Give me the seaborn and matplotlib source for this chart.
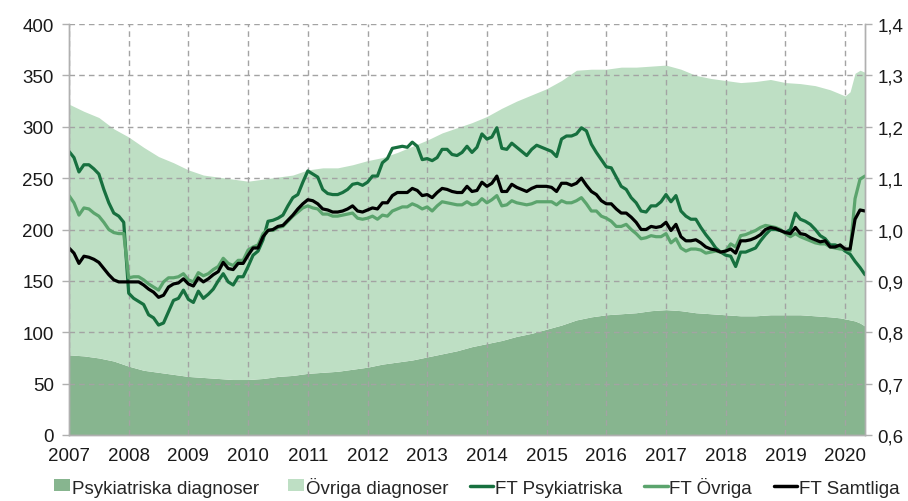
import numpy as np
import pandas as pd
import matplotlib
matplotlib.use("Agg")
import matplotlib.pyplot as plt
import seaborn as sns
from matplotlib.patches import Patch, Rectangle
from matplotlib.lines import Line2D
from matplotlib.legend_handler import HandlerPatch
from matplotlib.ticker import FuncFormatter, MultipleLocator

# ---------------- data ----------------
start_year = 2007
year_ticks = list(range(2007, 2021))

# FT indices, monthly from Jan 2007 to May 2020 (right axis)
ft_psyk = [
    1.152, 1.140, 1.112, 1.126, 1.126, 1.118, 1.108, 1.078, 1.052, 1.032, 1.026, 1.014,
    0.876, 0.866, 0.860, 0.854, 0.834, 0.828, 0.814, 0.818, 0.840, 0.862, 0.866, 0.882,
    0.864, 0.858, 0.880, 0.866, 0.874, 0.884, 0.900, 0.914, 0.898, 0.892, 0.908, 0.908,
    0.928, 0.950, 0.958, 0.980, 1.016, 1.018, 1.022, 1.028, 1.046, 1.062, 1.068, 1.092,
    1.114, 1.108, 1.102, 1.078, 1.070, 1.068, 1.068, 1.072, 1.078, 1.088, 1.090, 1.086,
    1.092, 1.104, 1.104, 1.130, 1.138, 1.158, 1.160, 1.162, 1.160, 1.170, 1.162, 1.136,
    1.138, 1.134, 1.140, 1.156, 1.156, 1.146, 1.144, 1.150, 1.162, 1.150, 1.160, 1.186,
    1.176, 1.180, 1.198, 1.158, 1.156, 1.168, 1.160, 1.152, 1.144, 1.156, 1.164, 1.160,
    1.156, 1.152, 1.142, 1.176, 1.182, 1.182, 1.186, 1.198, 1.192, 1.166, 1.150, 1.136,
    1.122, 1.120, 1.102, 1.084, 1.078, 1.062, 1.052, 1.036, 1.034, 1.046, 1.046, 1.054,
    1.068, 1.054, 1.066, 1.036, 1.026, 1.020, 1.020, 1.004, 0.990, 0.978, 0.964, 0.956,
    0.950, 0.948, 0.928, 0.956, 0.956, 0.960, 0.964, 0.978, 0.990, 1.000, 1.000, 0.998,
    0.994, 1.000, 1.032, 1.020, 1.016, 1.010, 1.000, 0.988, 0.982, 0.970, 0.970, 0.966,
    0.958, 0.952, 0.938, 0.926, 0.912,
]
ft_ovriga = [
    1.066, 1.052, 1.028, 1.042, 1.040, 1.032, 1.026, 1.014, 1.000, 0.994, 0.992, 0.992,
    0.906, 0.908, 0.908, 0.902, 0.894, 0.888, 0.882, 0.898, 0.906, 0.906, 0.908, 0.914,
    0.902, 0.898, 0.916, 0.910, 0.914, 0.922, 0.928, 0.944, 0.934, 0.930, 0.940, 0.940,
    0.960, 0.966, 0.970, 0.992, 1.000, 0.998, 1.004, 1.006, 1.016, 1.026, 1.034, 1.042,
    1.046, 1.042, 1.040, 1.030, 1.030, 1.026, 1.026, 1.028, 1.030, 1.032, 1.022, 1.020,
    1.022, 1.026, 1.020, 1.028, 1.026, 1.036, 1.040, 1.044, 1.044, 1.050, 1.046, 1.040,
    1.044, 1.036, 1.046, 1.054, 1.052, 1.050, 1.048, 1.048, 1.054, 1.048, 1.050, 1.060,
    1.052, 1.058, 1.066, 1.046, 1.048, 1.056, 1.052, 1.050, 1.048, 1.050, 1.054, 1.054,
    1.054, 1.054, 1.048, 1.056, 1.052, 1.052, 1.056, 1.062, 1.050, 1.036, 1.036, 1.026,
    1.022, 1.016, 1.006, 1.006, 1.010, 1.000, 0.992, 0.982, 0.984, 0.988, 0.986, 0.986,
    0.992, 0.974, 0.982, 0.964, 0.958, 0.962, 0.962, 0.960, 0.954, 0.956, 0.958, 0.956,
    0.958, 0.972, 0.966, 0.988, 0.990, 0.994, 0.998, 1.004, 1.008, 1.006, 1.004, 1.000,
    0.992, 0.986, 0.992, 0.986, 0.982, 0.978, 0.974, 0.972, 0.972, 0.966, 0.964, 0.962,
    0.962, 0.958, 1.060, 1.098, 1.104,
]
ft_samtliga = [
    0.964, 0.954, 0.934, 0.948, 0.946, 0.942, 0.936, 0.924, 0.912, 0.902, 0.898, 0.898,
    0.898, 0.898, 0.898, 0.892, 0.884, 0.878, 0.868, 0.872, 0.888, 0.894, 0.896, 0.904,
    0.894, 0.890, 0.906, 0.898, 0.904, 0.912, 0.918, 0.936, 0.924, 0.922, 0.934, 0.934,
    0.950, 0.964, 0.964, 0.986, 0.998, 1.000, 1.006, 1.008, 1.018, 1.028, 1.040, 1.050,
    1.058, 1.056, 1.050, 1.040, 1.038, 1.034, 1.034, 1.036, 1.040, 1.046, 1.036, 1.034,
    1.038, 1.042, 1.040, 1.052, 1.052, 1.066, 1.072, 1.072, 1.072, 1.080, 1.076, 1.066,
    1.068, 1.062, 1.072, 1.080, 1.078, 1.074, 1.072, 1.072, 1.084, 1.074, 1.076, 1.092,
    1.084, 1.090, 1.104, 1.074, 1.074, 1.088, 1.082, 1.078, 1.074, 1.080, 1.084, 1.084,
    1.084, 1.082, 1.074, 1.090, 1.090, 1.086, 1.090, 1.100, 1.086, 1.074, 1.068, 1.056,
    1.050, 1.050, 1.040, 1.032, 1.032, 1.024, 1.014, 1.000, 1.000, 1.006, 1.004, 1.006,
    1.014, 0.998, 1.010, 0.986, 0.978, 0.978, 0.980, 0.974, 0.966, 0.962, 0.960, 0.956,
    0.958, 0.962, 0.954, 0.978, 0.978, 0.980, 0.984, 0.990, 1.000, 1.004, 1.002, 0.998,
    0.994, 0.992, 1.004, 0.992, 0.990, 0.984, 0.980, 0.976, 0.978, 0.966, 0.966, 0.970,
    0.962, 0.962, 1.020, 1.038, 1.036,
]

# Number of sick-leave cases (thousands), left axis; month index from Jan 2007
area_month = [0, 3, 6, 9, 12, 15, 18, 21, 24, 27, 30, 33, 36, 39, 42, 45, 48, 51, 54, 57,
              60, 63, 66, 69, 72, 75, 78, 81, 84, 87, 90, 93, 96, 99, 102, 105, 108, 111,
              114, 117, 120, 123, 126, 129, 132, 135, 138, 141, 144, 147, 150, 153, 155,
              156, 157, 158, 159, 160]
psyk_diag = [78, 77, 75, 72, 67, 63, 61, 59, 57, 56, 55, 54, 54, 55, 57, 58, 60, 61, 62, 64,
             66, 69, 71, 73, 76, 79, 82, 86, 89, 92, 96, 99, 103, 107, 112, 115, 117, 118,
             119, 121, 122, 121, 119, 118, 117, 116, 116, 117, 117, 117, 116, 115, 114,
             113, 112, 111, 109, 106]
ovriga_diag = [244, 238, 234, 226, 223, 217, 210, 206, 201, 197, 196, 195, 193, 194, 194,
               195, 198, 199, 198, 199, 201, 201, 204, 208, 211, 215, 217, 218, 221, 226,
               229, 232, 234, 238, 243, 241, 239, 240, 239, 238, 238, 235, 231, 229, 228,
               227, 228, 229, 226, 225, 224, 221, 218, 217, 222, 241, 246, 247]

labels = ["Psykiatriska diagnoser", "Övriga diagnoser", "FT Psykiatriska", "FT Övriga", "FT Samtliga"]
colors = {"psyk_area": "#87b58f", "ovr_area": "#bedfc4",
          "ft_psyk": "#17703f", "ft_ovr": "#5ba46d", "ft_tot": "#000000"}

# ---------------- figure ----------------
sns.set_theme(style="white")
plt.rcParams["font.family"] = ["Liberation Sans", "DejaVu Sans"]

fig = plt.figure(figsize=(9.08, 5.02), dpi=100)
ax = fig.add_axes([69 / 908, 1 - 436 / 502, (865 - 69) / 908, (436 - 25) / 502])

area_x = [start_year + m / 12 for m in area_month]
ax.stackplot(area_x, psyk_diag, ovriga_diag,
             colors=[colors["psyk_area"], colors["ovr_area"]], linewidth=0, zorder=1)

n = len(ft_psyk)
df = pd.DataFrame({
    "x": [start_year + i / 12 for i in range(n)] * 3,
    "value": ft_psyk + ft_ovriga + ft_samtliga,
    "serie": [labels[2]] * n + [labels[3]] * n + [labels[4]] * n,
})

ax2 = ax.twinx()
sns.lineplot(data=df, x="x", y="value", hue="serie", ax=ax2, legend=False,
             palette=[colors["ft_psyk"], colors["ft_ovr"], colors["ft_tot"]],
             linewidth=2.3, estimator=None, sort=False)

xmax = start_year + (n - 1) / 12
ax.set_xlim(start_year, xmax)
ax2.set_xlim(start_year, xmax)
ax.set_ylim(0, 400)
ax2.set_ylim(0.6, 1.4)

grid_col = "#a3a3a3"
ax.set_xticks(year_ticks)
ax.set_xticklabels([str(y) for y in year_ticks])
ax.yaxis.set_major_locator(MultipleLocator(50))
ax2.yaxis.set_major_locator(MultipleLocator(0.1))
ax2.yaxis.set_major_formatter(FuncFormatter(lambda v, p: f"{v:.1f}".replace(".", ",")))

ax.set_axisbelow(False)
ax.grid(True, axis="both", color=grid_col, linestyle=(0, (4, 3)), linewidth=1.0, zorder=2)
ax2.grid(False)
ax.set_xlabel("")
ax.set_ylabel("")
ax2.set_xlabel("")
ax2.set_ylabel("")

for a in (ax, ax2):
    a.spines["top"].set_visible(False)
    for s in ("left", "right", "bottom"):
        a.spines[s].set_color("#b0b0b0")
        a.spines[s].set_linewidth(1.0)
    a.tick_params(colors="#b0b0b0", labelcolor="#1a1a1a", labelsize=13.5, length=5, width=1,
                  direction="out")
ax.tick_params(axis="x", pad=4)
ax.tick_params(axis="y", pad=6)
ax2.tick_params(axis="y", pad=4)


def square_patch(legend, orig_handle, xdescent, ydescent, width, height, fontsize):
    side = 0.85 * fontsize
    return Rectangle((xdescent + width - side, ydescent + (height - side * 0.75) / 2),
                     side, side * 0.75)


handles = [
    Patch(facecolor=colors["psyk_area"], edgecolor="none"),
    Patch(facecolor=colors["ovr_area"], edgecolor="none"),
    Line2D([], [], color=colors["ft_psyk"], lw=2.5),
    Line2D([], [], color=colors["ft_ovr"], lw=2.5),
    Line2D([], [], color=colors["ft_tot"], lw=2.5),
]
fig.legend(handles, labels, loc="center", bbox_to_anchor=(0.521, 0.028), ncol=5,
           frameon=False, fontsize=13.5, handlelength=1.25, handleheight=0.8,
           handletextpad=0.1, columnspacing=1.15, borderaxespad=0,
           handler_map={Patch: HandlerPatch(patch_func=square_patch)})

fig.savefig("out.png", dpi=100)
